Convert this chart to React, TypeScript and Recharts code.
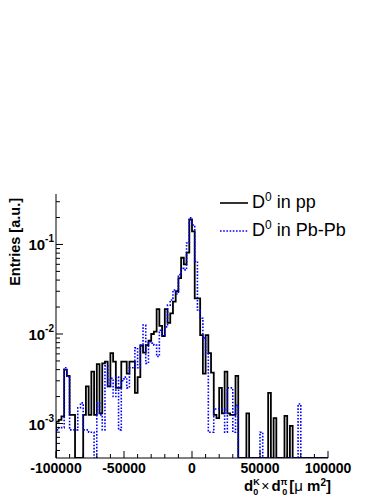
import React from 'react';
import { LineChart, Line, XAxis, YAxis, Legend } from 'recharts';

const X_MIN = -100000;
const X_MAX = 100000;
const BIN_WIDTH = 2000;
const Y_MIN = 4.12e-4;
const Y_MAX = 0.366;

// D0 in pp (black, solid) - 100 bins of width 2000 from -100000
const ppValues = [
  0.00105, 0.0011, 0.0012, 0.004, 0.0034, 0.00125, 0.00125, 0, 0, 0,
  0.00125, 0.0026, 0.00125, 0.0038, 0.00125, 0.0046, 0.0013, 0.0047, 0.0049, 0.0026,
  0.0061, 0.0049, 0.0025, 0.0025, 0.0049, 0.0049, 0.0036, 0.0049, 0.0049, 0.0022,
  0.0033, 0.0074, 0.0062, 0.0075, 0.0084, 0.01, 0.0106, 0.019, 0.0123, 0.0095,
  0.019, 0.0133, 0.017, 0.023, 0.03, 0.042, 0.071, 0.06, 0.081, 0.19,
  0.14, 0.025, 0.025, 0.0097, 0.0036, 0.0097, 0.0061, 0.0037, 0.00125, 0.00115,
  0.0025, 0.0013, 0.0038, 0.0013, 0.00125, 0.00125, 0.0034, 0, 0, 0,
  0.0013, 0, 0, 0, 0, 0, 0, 0, 0.0022, 0,
  0.00115, 0, 0, 0, 0.00122, 0, 0.00094, 0, 0, 0,
  0, 0, 0, 0, 0, 0, 0, 0, 0, 0,
];

// D0 in Pb-Pb (blue, dotted)
const pbpbValues = [
  0.00085, 0.0009, 0.0009, 0.0042, 0.0033, 0.00085, 0.00085, 0.00085, 0.0015, 0.0017,
  0.00085, 0.00085, 0.0008, 0.0008, 0, 0.0017, 0.00125, 0.00085, 0.0044, 0.0026,
  0.0032, 0.002, 0.0033, 0.00085, 0.003, 0.0033, 0.0025, 0.0042, 0.0042, 0.007,
  0.0042, 0.0075, 0.0126, 0.0047, 0.0082, 0.0079, 0.0075, 0.0056, 0.011, 0.0097,
  0.012, 0.021, 0.024, 0.031, 0.028, 0.046, 0.054, 0.052, 0.104, 0.198,
  0.165, 0.065, 0.0185, 0.015, 0.009, 0.006, 0.0008, 0.0008, 0.00145, 0.00145,
  0.00145, 0.00145, 0.0008, 0.0025, 0.0025, 0.0008, 0.0016, 0, 0, 0,
  0, 0, 0, 0, 0, 0.0008, 0, 0, 0, 0,
  0, 0, 0, 0, 0, 0, 0, 0, 0, 0.00165,
  0, 0, 0, 0, 0, 0, 0, 0, 0, 0,
];

const xMajorTicks = [-100000, -50000, 0, 50000, 100000];
const X_MINOR_STEP = 10000;
const yMajorTicks = [1e-3, 1e-2, 1e-1];
const yMajorExponents = ['-3', '-2', '-1'];

const FONT = '"Liberation Sans", Arial, Helvetica, sans-serif';

const floorValue = (v: number) => (v > 0 ? v : Y_MIN);

const data = [
  { x: X_MIN, pp: Y_MIN, pbpb: Y_MIN },
  ...ppValues.map((v, i) => ({
    x: X_MIN + i * BIN_WIDTH,
    pp: floorValue(v),
    pbpb: floorValue(pbpbValues[i]),
  })),
  { x: X_MAX, pp: Y_MIN, pbpb: Y_MIN },
];

const xTicks: number[] = [];
for (let v = X_MIN; v <= X_MAX; v += X_MINOR_STEP) xTicks.push(v);

const yTicks: number[] = [];
for (let e = -4; e <= -1; e++) {
  for (let m = 1; m <= 9; m++) {
    const v = m * Math.pow(10, e);
    if (v >= Y_MIN && v <= Y_MAX) yTicks.push(v);
  }
}

const majorYIndex = (v: number) =>
  yMajorTicks.findIndex((t) => Math.abs(Math.log10(t) - Math.log10(v)) < 1e-6);

const YTick = (props: any) => {
  const { x, y, payload } = props;
  const idx = majorYIndex(payload.value);
  const major = idx >= 0;
  return (
    <g>
      <line x1={x} x2={x + (major ? 7 : 4)} y1={y} y2={y} stroke="#000" strokeWidth={1} />
      {major && (
        <text x={x - 2} y={y + 6} textAnchor="end" fontFamily={FONT} fontWeight="bold" fontSize={15} fill="#000">
          10
          <tspan dy={-8} fontSize={10}>{yMajorExponents[idx]}</tspan>
        </text>
      )}
    </g>
  );
};

const XTick = (props: any) => {
  const { x, y, payload } = props;
  const major = xMajorTicks.includes(payload.value);
  return (
    <g>
      <line x1={x} x2={x} y1={y} y2={y - (major ? 7 : 4)} stroke="#000" strokeWidth={1} />
      {major && (
        <text x={x} y={y + 14.5} textAnchor="middle" fontFamily={FONT} fontWeight="bold" fontSize={14} fill="#000">
          {String(payload.value)}
        </text>
      )}
    </g>
  );
};

const legendItems = [
  { key: 'pp', label: ' in pp', color: '#000000', dash: undefined as string | undefined },
  { key: 'pbpb', label: ' in Pb-Pb', color: '#0000ff', dash: '1.6 1.6' },
];

const LegendContent = () => (
  <div style={{ fontFamily: FONT, fontSize: 18, color: '#000' }}>
    {legendItems.map((it) => (
      <div key={it.key} style={{ display: 'flex', alignItems: 'center', height: 28, lineHeight: '28px', whiteSpace: 'nowrap' }}>
        <svg width={32} height={28} style={{ display: 'block' }}>
          <line x1={2} x2={30} y1={14} y2={14} stroke={it.color} strokeWidth={1.6} strokeDasharray={it.dash} />
        </svg>
        <span style={{ marginLeft: 2 }}>
          D<span style={{ fontSize: 12, position: 'relative', top: -7 }}>0</span>
          {it.label}
        </span>
      </div>
    ))}
  </div>
);

export default function App() {
  return (
    <div style={{ position: 'absolute', left: 0, top: 0, width: 387, height: 501, background: '#fff' }}>
      <LineChart
        width={387}
        height={501}
        data={data}
        margin={{ top: 194, right: 59, bottom: 13, left: 6 }}
      >
        <XAxis
          dataKey="x"
          type="number"
          domain={[X_MIN, X_MAX]}
          ticks={xTicks}
          interval={0}
          tickSize={0}
          tickMargin={0}
          tick={<XTick />}
          axisLine={{ stroke: '#000', strokeWidth: 1 }}
          tickLine={false}
          height={30}
          allowDataOverflow
        />
        <YAxis
          type="number"
          scale="log"
          domain={[Y_MIN, Y_MAX]}
          ticks={yTicks}
          interval={0}
          tickSize={0}
          tickMargin={0}
          tick={<YTick />}
          axisLine={{ stroke: '#000', strokeWidth: 1 }}
          tickLine={false}
          width={50}
          allowDataOverflow
        />
        <Legend
          layout="horizontal"
          verticalAlign="middle"
          align="center"
          content={<LegendContent />}
          wrapperStyle={{ left: 218, top: 189, width: 169, height: 56, margin: 0 }}
        />
        <Line
          dataKey="pp"
          type="stepAfter"
          stroke="#000000"
          strokeWidth={1.8}
          dot={false}
          isAnimationActive={false}
        />
        <Line
          dataKey="pbpb"
          type="stepAfter"
          stroke="#0000ff"
          strokeWidth={1.6}
          strokeDasharray="1.6 1.6"
          dot={false}
          isAnimationActive={false}
        />
      </LineChart>
      <svg width={387} height={501} style={{ position: 'absolute', left: 0, top: 0, pointerEvents: 'none' }}>
        <text
          transform="rotate(-90)"
          x={-198}
          y={19.5}
          textAnchor="end"
          fontFamily={FONT}
          fontWeight="bold"
          fontSize={14.5}
          fill="#000"
        >
          Entries [a.u.]
        </text>
        <text x={331} y={491} textAnchor="end" fontFamily={FONT} fontWeight="bold" fontSize={15} fill="#000">
          d
          <tspan fontSize={9} dy={-6}>K</tspan>
          <tspan fontSize={9} dx={-6.5} dy={10}>0</tspan>
          <tspan dy={-4} dx={3} fontWeight="normal" fontSize={14}>×</tspan>
          <tspan dx={2}>d</tspan>
          <tspan fontSize={9} dy={-6}>π</tspan>
          <tspan fontSize={9} dx={-5.2} dy={10}>0</tspan>
          <tspan dy={-4} dx={2}>[</tspan>
          <tspan fontWeight="normal">μ</tspan>
          <tspan> m</tspan>
          <tspan fontSize={10} dy={-5.5}>2</tspan>
          <tspan dy={5.5}>]</tspan>
        </text>
      </svg>
    </div>
  );
}
